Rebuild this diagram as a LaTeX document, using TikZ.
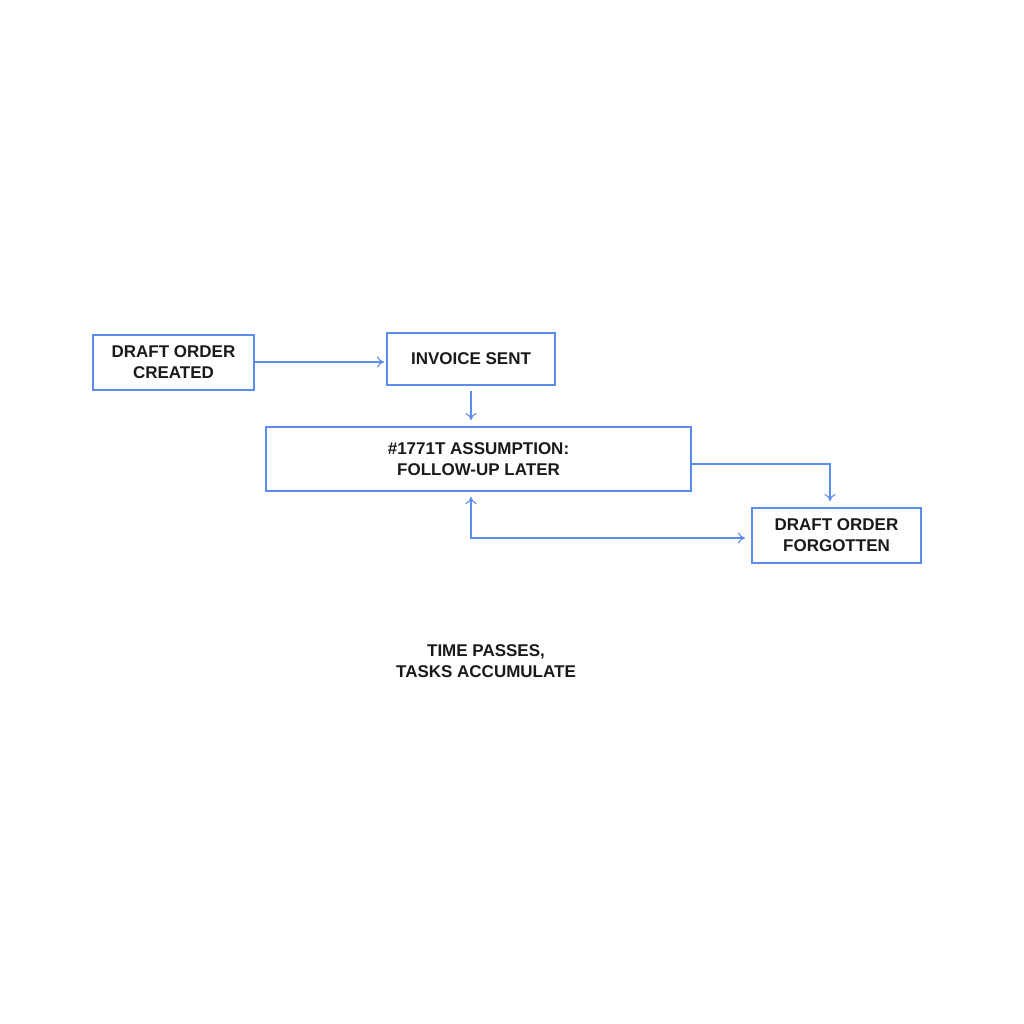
\documentclass[tikz,border=0pt]{standalone}
\usepackage{fontspec}
\setmainfont{Liberation Sans}
\usetikzlibrary{arrows.meta}
\definecolor{flowblue}{HTML}{5B8DEF}
\definecolor{txt}{HTML}{1A1A1A}
\tikzset{
  box/.style={draw=flowblue, line width=1.1pt, fill=white, inner sep=0pt, align=center,
    font=\fontsize{17}{21}\selectfont\bfseries, text=txt},
  conn/.style={draw=flowblue, line width=1.1pt, -{To[length=7pt,width=11pt]}},
  lbl/.style={align=center, font=\fontsize{17}{21}\selectfont\bfseries, text=txt}
}
\begin{document}
\begin{tikzpicture}[x=1pt,y=-1pt]
\useasboundingbox (0,0) rectangle (1024,1024);
\node[box, minimum width=161pt, minimum height=55pt] (A) at (173.5,362.5) {DRAFT ORDER\\CREATED};
\node[box, minimum width=168pt, minimum height=52pt] (B) at (471,359) {INVOICE SENT};
\node[box, minimum width=425pt, minimum height=64pt] (C) at (478.5,459) {\#1771T ASSUMPTION:\\FOLLOW-UP LATER};
\node[box, minimum width=169pt, minimum height=55pt] (D) at (836.5,535.5) {DRAFT ORDER\\FORGOTTEN};
\node[lbl] (T) at (486,661) {TIME PASSES,\\TASKS ACCUMULATE};
\coordinate (b1) at (471,391);
\coordinate (c1) at (471,420);
\draw[conn] (A.east |- 0,362) -- (384,362);
\draw[conn] (b1) -- (c1);
\draw[conn] (C.east |- 0,464) -| (830,501);
\draw[draw=flowblue, line width=1.1pt, {To[length=7pt,width=11pt]}-{To[length=7pt,width=11pt]}] (471,497) |- (745,538);
\end{tikzpicture}
\end{document}
